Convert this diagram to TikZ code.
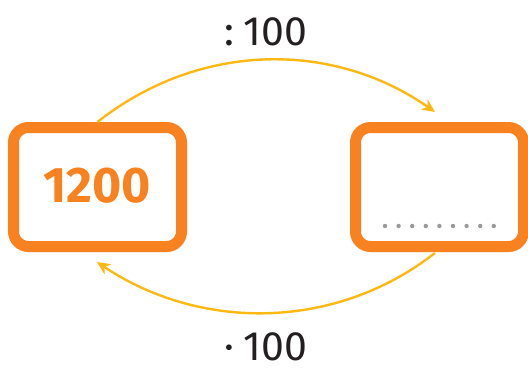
\documentclass[tikz,border=0pt]{standalone}
\usepackage{fontspec}
\setmainfont{Fira Sans}
\usetikzlibrary{arrows.meta,shadows.blur}
\definecolor{boxorange}{HTML}{F7821F}
\definecolor{arrowyellow}{HTML}{FDB913}
\definecolor{labelgray}{HTML}{231F20}
\definecolor{dotgray}{HTML}{9A9A9A}
\tikzset{
  numbox/.style={draw=boxorange, line width=11pt, fill=white, rounded corners=15pt,
    minimum width=168pt, minimum height=119pt, inner sep=0pt,
    blur shadow={shadow xshift=2pt, shadow yshift=-4pt, shadow blur steps=6, shadow opacity=25}},
  flow/.style={draw=arrowyellow, line width=2.4pt, -{Stealth[length=13pt,width=12pt,inset=4pt]}},
  oplabel/.style={text=labelgray, font=\fontsize{41}{46}\selectfont, inner sep=0pt,
    text depth=0pt, anchor=base},
  bignum/.style={text=boxorange, font=\fontsize{50}{56}\selectfont\bfseries, inner sep=0pt},
  blankdot/.style={circle, fill=dotgray, inner sep=0pt, minimum size=4.4pt}
}
\begin{document}
\begin{tikzpicture}[x=1pt,y=-1pt]
\useasboundingbox (0,0) rectangle (528,370);
\node[numbox] (L) at (97.5,187) {};
\node[numbox] (R) at (439.5,187) {};
\node[bignum] (num) at (97,186) {1200};
\foreach \i in {0,...,8} {
  \node[blankdot] (d\i) at ({385+\i*13.6},226) {};
}
\coordinate (topend) at (435,112);
\coordinate (botstart) at (435,253);
\coordinate (botend) at (97,262);
\draw[flow] (L.north) .. controls (200,41) and (334,41) .. (topend);
\draw[flow] (botstart) .. controls (335,331) and (200,331) .. (botend);
\node[oplabel] (divl) at (266,45) {:\hspace{9pt}100};
\node[oplabel] (mull) at (266,360) {·\hspace{9pt}100};
\end{tikzpicture}
\end{document}
